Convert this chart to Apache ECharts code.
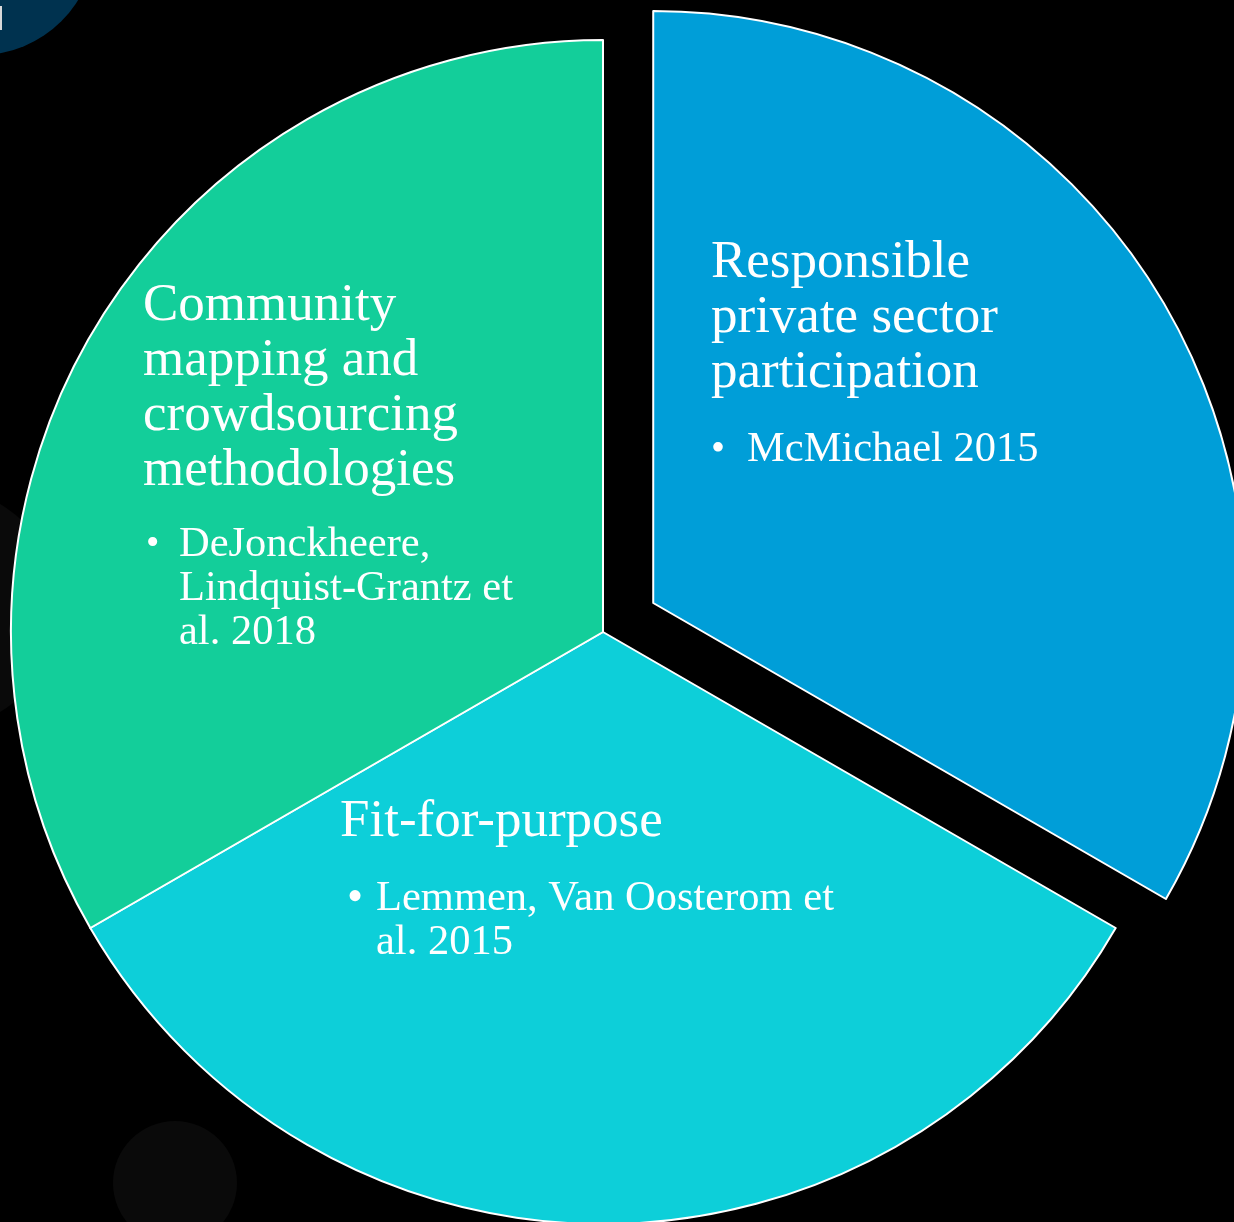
<!DOCTYPE html>
<html>
<head>
<meta charset="utf-8">
<script src="https://cdn.jsdelivr.net/npm/echarts@6/dist/echarts.min.js"></script>
<style>
html,body{margin:0;padding:0;background:#000;}
#chart{width:1234px;height:1222px;}
</style>
</head>
<body>
<div id="chart"></div>
<script>
// ---- data ----
const categories = ['Responsible private sector participation', 'Fit-for-purpose', 'Community mapping and crowdsourcing methodologies'];
const values = [1, 1, 1];
const titleLines = [
  ['Responsible', 'private sector', 'participation'],
  ['Fit-for-purpose'],
  ['Community', 'mapping and', 'crowdsourcing', 'methodologies']
];
const refLines = [
  ['McMichael 2015'],
  ['Lemmen, Van Oosterom et', 'al. 2015'],
  ['DeJonckheere,', 'Lindquist-Grantz et', 'al. 2018']
];
const colors = ['#009ED8', '#0DCFD9', '#13CE9A'];
const explodedIndex = 0;

// ---- layout ----
const labelPos = [
  {x: 711, y: 236},
  {x: 340, y: 795},
  {x: 143, y: 279}
];
const gapHeight = [27, 27, 24];
const bulletPad = [0, 7, 3];
const bulletFont = [40, 46, 38];
const indent = 36;

const FONT = '"Liberation Serif", "Times New Roman", serif';

function makeText(i) {
  const parts = titleLines[i].map(l => '{t|' + l + '}');
  parts.push('{g' + i + '| }');
  refLines[i].forEach((l, k) => {
    parts.push((k === 0 ? '{bul' + i + '|•}' : '{ind| }') + '{b|' + l + '}');
  });
  return parts.join('\n');
}

const rich = {
  t: {fontFamily: FONT, fontSize: 53, lineHeight: 55, fill: '#fff', color: '#fff'},
  b: {fontFamily: FONT, fontSize: 42.5, lineHeight: 44, fill: '#fff', color: '#fff'},
  ind: {fontFamily: FONT, fontSize: 42.5, lineHeight: 44, width: indent, fill: '#fff', color: '#fff'}
};
for (let i = 0; i < 3; i++) {
  rich['g' + i] = {fontFamily: FONT, fontSize: 10, lineHeight: gapHeight[i], fill: '#fff', color: '#fff'};
  rich['bul' + i] = {
    fontFamily: FONT, fontSize: bulletFont[i], lineHeight: 44, fill: '#fff', color: '#fff',
    width: indent - bulletPad[i], padding: [0, 0, 0, bulletPad[i]]
  };
}

const labelGraphics = categories.map((c, i) => ({
  type: 'text',
  z: 100,
  silent: true,
  style: {
    x: labelPos[i].x,
    y: labelPos[i].y,
    text: makeText(i),
    align: 'left',
    verticalAlign: 'top',
    fill: '#fff',
    font: '53px ' + FONT,
    rich: rich
  }
}));

const chart = echarts.init(document.getElementById('chart'));
chart.setOption({
  backgroundColor: '#000',
  animation: false,
  graphic: [
    {type: 'circle', z: -10, silent: true, shape: {cx: -20, cy: -60, r: 115}, style: {fill: '#00324F'}},
    {type: 'rect', z: -9, silent: true, shape: {x: 0, y: 6, width: 2, height: 24}, style: {fill: '#d8d8d8'}},
    {type: 'circle', z: -10, silent: true, shape: {cx: 175, cy: 1183, r: 62}, style: {fill: '#0a0a0a'}},
    {type: 'circle', z: -10, silent: true, shape: {cx: -60, cy: 608, r: 120}, style: {fill: '#0a0a0a'}}
  ].concat(labelGraphics),
  series: [{
    type: 'pie',
    center: [603, 632],
    radius: 592,
    startAngle: 90,
    clockwise: true,
    selectedMode: 'single',
    selectedOffset: 58,
    emphasis: {disabled: true},
    itemStyle: {borderColor: '#fff', borderWidth: 2},
    labelLine: {show: false},
    label: {show: false},
    data: categories.map((c, i) => ({
      name: c,
      value: values[i],
      selected: i === explodedIndex,
      itemStyle: {color: colors[i]}
    }))
  }]
});
</script>
</body>
</html>
